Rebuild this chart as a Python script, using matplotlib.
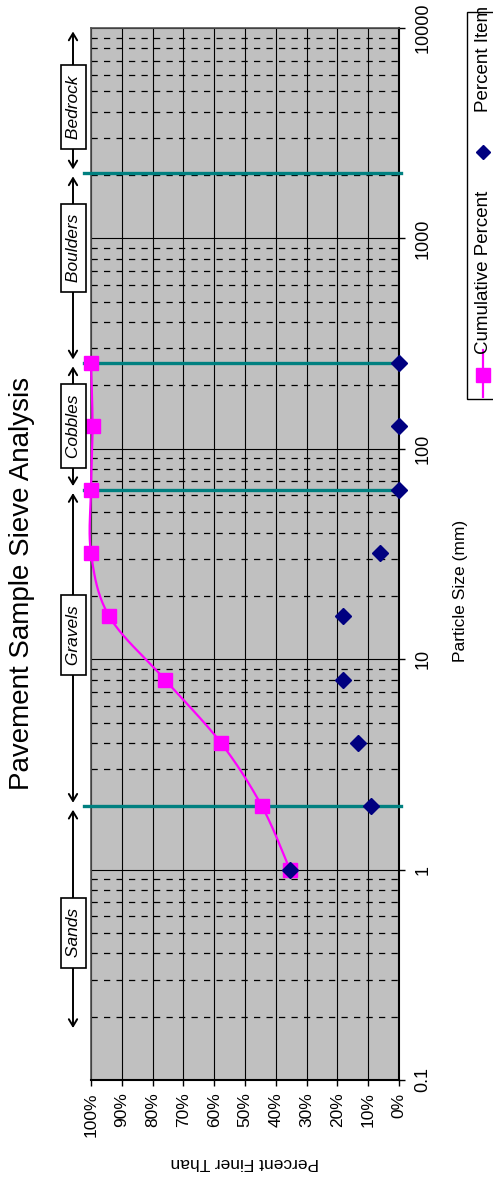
import numpy as np
import matplotlib
matplotlib.use("Agg")
import matplotlib.pyplot as plt
from matplotlib.lines import Line2D
from matplotlib.patches import Rectangle, FancyArrowPatch
from matplotlib.transforms import blended_transform_factory
from matplotlib.ticker import FixedLocator, FuncFormatter, NullFormatter

plt.rcParams['font.family'] = ['Liberation Sans', 'DejaVu Sans']

# data
sizes = [1, 2, 4, 8, 16, 32, 64, 128, 256]
cumulative = [35.4, 44.5, 57.8, 76.0, 94.1, 100.0, 100.0, 99.5, 100.0]
item = [35.4, 9.2, 13.3, 18.3, 18.3, 6.2, 0.0, 0.0, 0.0]

boundaries = [2, 64, 256, 2048]
zone_names = ['Sands', 'Gravels', 'Cobbles', 'Boulders', 'Bedrock']
zone_edges = [0.17, 2, 64, 256, 2048, 10000]
zone_label_at = [0.5, 13, 128, 900, 4200]

pct_ticks = list(range(0, 101, 10))
size_ticks = [0.1, 1, 10, 100, 1000, 10000]

W, H = 493, 1180
magenta = '#FF00FF'
navy = '#000080'
teal = '#008080'


def fx(x):
    return x / W


def fy(y):
    return 1 - y / H


def smooth(xs, ys, n=24):
    # excel-style smoothed line (catmull-rom through the points)
    pts = np.column_stack([xs, ys])
    out = []
    for i in range(len(pts) - 1):
        p0 = pts[max(i - 1, 0)]
        p1 = pts[i]
        p2 = pts[i + 1]
        p3 = pts[min(i + 2, len(pts) - 1)]
        m1 = (p2 - p0) / 2
        m2 = (p3 - p1) / 2
        t = np.linspace(0, 1, n)[:, None]
        h00 = 2 * t**3 - 3 * t**2 + 1
        h10 = t**3 - 2 * t**2 + t
        h01 = -2 * t**3 + 3 * t**2
        h11 = t**3 - t**2
        out.append(h00 * p1 + h10 * m1 + h01 * p2 + h11 * m2)
    out = np.vstack(out)
    return out[:, 0], out[:, 1]


fig = plt.figure(figsize=(W / 100, H / 100), dpi=100)
ax = fig.add_axes([fx(91), fy(1080), fx(399 - 91), (1080 - 28) / H])
ax.set_facecolor('#C0C0C0')

ax.set_yscale('log')
ax.set_ylim(0.1, 10000)
ax.set_xlim(100, 0)

# grid
ax.xaxis.set_major_locator(FixedLocator(pct_ticks))
ax.xaxis.set_major_formatter(FuncFormatter(lambda v, p: '%d%%' % v))
ax.yaxis.set_major_locator(FixedLocator(size_ticks))
ax.yaxis.set_major_formatter(FuncFormatter(lambda v, p: '%g' % v))
minor = [m * d for d in [0.1, 1, 10, 100, 1000] for m in range(2, 10)]
ax.yaxis.set_minor_locator(FixedLocator(minor))
ax.yaxis.set_minor_formatter(NullFormatter())
ax.grid(True, axis='x', which='major', color='black', lw=0.8)
ax.grid(True, axis='y', which='major', color='black', lw=0.8)
ax.grid(True, axis='y', which='minor', color='black', lw=0.9, ls=(0, (5, 5)))
ax.set_axisbelow(True)

ax.yaxis.tick_right()
ax.tick_params(axis='y', which='major', length=4, width=1, pad=7, labelsize=13,
               labelrotation=90)
for lab in ax.get_yticklabels():
    lab.set_va('center')
ax.tick_params(axis='y', which='minor', length=0)
ax.tick_params(axis='x', length=4, width=1, pad=5, labelsize=12.5, labelrotation=90)

for s in ['left', 'top']:
    ax.spines[s].set_color('#505050')
    ax.spines[s].set_linewidth(1.2)
for s in ['right', 'bottom']:
    ax.spines[s].set_color('black')
    ax.spines[s].set_linewidth(1.5)

# zone boundary lines
for b in boundaries:
    ax.plot([102.3, -0.7], [b, b], color=teal, lw=2.4, clip_on=False, zorder=3)

# cumulative percent, smoothed
sx, sy = smooth(np.array(cumulative), np.log10(sizes))
ax.plot(sx, 10**sy, color=magenta, lw=1.6, clip_on=False, zorder=4)
ax.plot(cumulative, sizes, ls='none', marker='s', ms=9.5, color=magenta,
        clip_on=False, zorder=5)
# percent item
ax.plot(item, sizes, ls='none', marker='D', ms=7.8, color=navy,
        clip_on=False, zorder=6)

# zone arrows and labels
tr = blended_transform_factory(fig.transFigure, ax.transData)
for i, name in enumerate(zone_names):
    arr = FancyArrowPatch((fx(73), zone_edges[i]), (fx(73), zone_edges[i + 1]),
                          transform=tr, arrowstyle='<->,head_length=5,head_width=3',
                          color='black', lw=1.4, shrinkA=2.5, shrinkB=2.5,
                          mutation_scale=1)
    fig.add_artist(arr)
    fig.text(fx(73.5), zone_label_at[i], ' ' + name + ' ', transform=tr, rotation=90,
             ha='center', va='center', fontsize=12.5, style='italic',
             bbox=dict(boxstyle='square,pad=0.3', fc='white', ec='black', lw=1.2))

# titles
fig.text(fx(22), fy(583), 'Pavement Sample Sieve Analysis', rotation=90,
         ha='center', va='center', fontsize=20)
fig.text(fx(245), fy(1162), 'Percent Finer Than', rotation=180,
         ha='center', va='center', fontsize=12.5)
fig.text(fx(460), fy(591), 'Particle Size (mm)', rotation=90,
         ha='center', va='center', fontsize=12.5)

# legend
fig.add_artist(Rectangle((fx(467), fy(399)), fx(40), (399 - 12) / H,
                         transform=fig.transFigure, fc='white', ec='black', lw=1))
fig.add_artist(Line2D([fx(483), fx(483)], [fy(350), fy(397)], color=magenta, lw=1.6))
fig.add_artist(Line2D([fx(483)], [fy(375)], marker='s', ms=9.5, color=magenta, ls='none'))
fig.add_artist(Line2D([fx(483)], [fy(152)], marker='D', ms=7, color=navy, ls='none'))
fig.text(fx(483), fy(354), 'Cumulative Percent', rotation=90, rotation_mode='anchor',
         ha='left', va='center', fontsize=13.5)
fig.text(fx(483), fy(112), 'Percent Item', rotation=90, rotation_mode='anchor',
         ha='left', va='center', fontsize=13.5)

fig.savefig('out.png', dpi=100)
